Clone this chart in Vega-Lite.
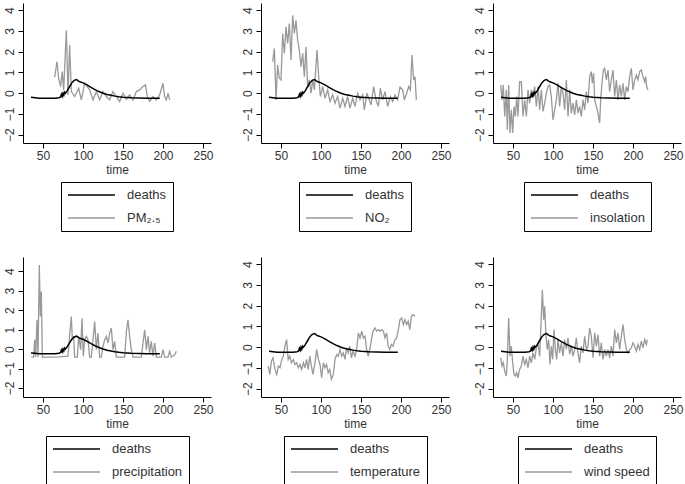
{
"$schema": "https://vega.github.io/schema/vega-lite/v6.json",
"padding": {"top": 3, "left": 3, "right": 2, "bottom": 0},
"config": {
 "font": "Liberation Sans",
 "view": {"stroke": null},
 "axis": {"grid": false, "domainColor": "#000", "tickColor": "#000", "labelColor": "#333", "labelFontSize": 12, "titleFontSize": 12, "titleFontWeight": "normal", "titleColor": "#333", "tickSize": 5, "labelPadding": 2, "titlePadding": 3, "labelOverlap": false, "labelFlush": false},
 "axisY": {"labelAngle": 270},
 "legend": {"orient": "bottom", "direction": "vertical", "strokeColor": "#000", "padding": 6, "labelFontSize": 13, "labelColor": "#333", "symbolType": "M-1,0L6.83,0", "symbolSize": 144, "symbolStrokeWidth": 1.3, "labelOffset": 46, "rowPadding": 9, "offset": 7, "layout": {"bottom": {"anchor": "middle"}}}
},
"datasets": {
 "deaths": [
  {"t":35,"v":-0.2},{"t":40,"v":-0.22},{"t":45,"v":-0.24},{"t":55,"v":-0.24},{"t":65,"v":-0.24},{"t":70,"v":-0.22},{"t":72,"v":-0.18},{"t":73,"v":-0.05},{"t":74,"v":-0.15},{"t":75,"v":0.0},{"t":76,"v":-0.1},{"t":77,"v":0.05},{"t":78,"v":0.0},{"t":80,"v":0.1},{"t":83,"v":0.3},{"t":86,"v":0.5},{"t":89,"v":0.62},{"t":92,"v":0.66},{"t":94,"v":0.6},{"t":96,"v":0.55},{"t":100,"v":0.5},{"t":105,"v":0.4},{"t":110,"v":0.28},{"t":115,"v":0.17},{"t":120,"v":0.08},{"t":125,"v":0.0},{"t":130,"v":-0.06},{"t":135,"v":-0.1},{"t":140,"v":-0.14},{"t":145,"v":-0.17},{"t":150,"v":-0.19},{"t":160,"v":-0.22},{"t":170,"v":-0.23},{"t":180,"v":-0.24},{"t":196,"v":-0.24}
 ],
 "env": [
  {"p":"PM₂.₅","t":64.6,"v":0.77},{"p":"PM₂.₅","t":67.5,"v":1.52},{"p":"PM₂.₅","t":69.6,"v":0.72},{"p":"PM₂.₅","t":72,"v":0.32},{"p":"PM₂.₅","t":74,"v":1.04},{"p":"PM₂.₅","t":75.8,"v":0.16},{"p":"PM₂.₅","t":79.2,"v":3.04},{"p":"PM₂.₅","t":81.25,"v":-0.08},{"p":"PM₂.₅","t":83.3,"v":2.32},{"p":"PM₂.₅","t":85.4,"v":0.08},{"p":"PM₂.₅","t":89.6,"v":-0.16},{"p":"PM₂.₅","t":94.6,"v":0.24},{"p":"PM₂.₅","t":97.9,"v":-0.32},{"p":"PM₂.₅","t":102.1,"v":0.48},{"p":"PM₂.₅","t":105.4,"v":0.32},{"p":"PM₂.₅","t":108.3,"v":0.16},{"p":"PM₂.₅","t":112.5,"v":-0.32},{"p":"PM₂.₅","t":116.7,"v":0.08},{"p":"PM₂.₅","t":120.8,"v":-0.32},{"p":"PM₂.₅","t":125,"v":0.08},{"p":"PM₂.₅","t":129.2,"v":-0.16},{"p":"PM₂.₅","t":133.3,"v":-0.32},{"p":"PM₂.₅","t":137.5,"v":0.08},{"p":"PM₂.₅","t":141.7,"v":-0.16},{"p":"PM₂.₅","t":145.8,"v":-0.4},{"p":"PM₂.₅","t":150,"v":0},{"p":"PM₂.₅","t":154.2,"v":-0.29},{"p":"PM₂.₅","t":158.3,"v":-0.08},{"p":"PM₂.₅","t":162.5,"v":-0.32},{"p":"PM₂.₅","t":166.7,"v":0.08},{"p":"PM₂.₅","t":170.8,"v":0.16},{"p":"PM₂.₅","t":175,"v":0.32},{"p":"PM₂.₅","t":178,"v":0.4},{"p":"PM₂.₅","t":180.4,"v":-0.16},{"p":"PM₂.₅","t":183.3,"v":-0.4},{"p":"PM₂.₅","t":187.5,"v":-0.16},{"p":"PM₂.₅","t":191.7,"v":-0.32},{"p":"PM₂.₅","t":195.8,"v":-0.08},{"p":"PM₂.₅","t":200,"v":0.48},{"p":"PM₂.₅","t":202,"v":-0.16},{"p":"PM₂.₅","t":204.2,"v":-0.32},{"p":"PM₂.₅","t":206.25,"v":0},{"p":"PM₂.₅","t":208.3,"v":-0.32},
  {"p":"NO₂","t":39.6,"v":1.52},{"p":"NO₂","t":41.7,"v":2.16},{"p":"NO₂","t":43.75,"v":-0.32},{"p":"NO₂","t":45.8,"v":1.36},{"p":"NO₂","t":47.9,"v":0.72},{"p":"NO₂","t":50,"v":0.64},{"p":"NO₂","t":52.1,"v":2.88},{"p":"NO₂","t":54.2,"v":1.92},{"p":"NO₂","t":56.25,"v":3.2},{"p":"NO₂","t":58.3,"v":2.4},{"p":"NO₂","t":60.4,"v":3.36},{"p":"NO₂","t":62.5,"v":1.6},{"p":"NO₂","t":64.6,"v":3.76},{"p":"NO₂","t":66.7,"v":2.88},{"p":"NO₂","t":68.75,"v":3.52},{"p":"NO₂","t":70.8,"v":2.56},{"p":"NO₂","t":72.9,"v":2.08},{"p":"NO₂","t":75,"v":1.28},{"p":"NO₂","t":77.1,"v":1.92},{"p":"NO₂","t":79.2,"v":0.8},{"p":"NO₂","t":81.25,"v":2.24},{"p":"NO₂","t":83.3,"v":0.32},{"p":"NO₂","t":85.4,"v":0.64},{"p":"NO₂","t":87.5,"v":0},{"p":"NO₂","t":89.6,"v":0.64},{"p":"NO₂","t":91.7,"v":0.16},{"p":"NO₂","t":95,"v":2.08},{"p":"NO₂","t":97.1,"v":0.8},{"p":"NO₂","t":99.2,"v":-0.16},{"p":"NO₂","t":102.1,"v":0.32},{"p":"NO₂","t":105,"v":-0.24},{"p":"NO₂","t":108.3,"v":0.16},{"p":"NO₂","t":111.25,"v":-0.4},{"p":"NO₂","t":114.6,"v":-0.08},{"p":"NO₂","t":117.5,"v":-0.48},{"p":"NO₂","t":120.8,"v":-0.16},{"p":"NO₂","t":123.75,"v":-0.72},{"p":"NO₂","t":127.1,"v":-0.24},{"p":"NO₂","t":130,"v":-0.64},{"p":"NO₂","t":133.3,"v":-0.16},{"p":"NO₂","t":136.25,"v":-0.72},{"p":"NO₂","t":139.6,"v":-0.24},{"p":"NO₂","t":142.5,"v":-0.64},{"p":"NO₂","t":145.8,"v":0},{"p":"NO₂","t":148.75,"v":-0.32},{"p":"NO₂","t":152.1,"v":-0.08},{"p":"NO₂","t":154.2,"v":-0.8},{"p":"NO₂","t":157.5,"v":0},{"p":"NO₂","t":160.4,"v":-0.32},{"p":"NO₂","t":162.5,"v":-0.56},{"p":"NO₂","t":165.8,"v":0.32},{"p":"NO₂","t":168.75,"v":-0.32},{"p":"NO₂","t":171.7,"v":-0.64},{"p":"NO₂","t":174.2,"v":0.24},{"p":"NO₂","t":177.1,"v":-0.32},{"p":"NO₂","t":180,"v":0.08},{"p":"NO₂","t":183.3,"v":-0.64},{"p":"NO₂","t":186.7,"v":-0.16},{"p":"NO₂","t":189.6,"v":-0.4},{"p":"NO₂","t":192.5,"v":-0.08},{"p":"NO₂","t":195.8,"v":-0.32},{"p":"NO₂","t":198.75,"v":0.29},{"p":"NO₂","t":202.1,"v":0.16},{"p":"NO₂","t":204.2,"v":-0.32},{"p":"NO₂","t":207.1,"v":0},{"p":"NO₂","t":209.6,"v":0.32},{"p":"NO₂","t":211.7,"v":0.16},{"p":"NO₂","t":213.75,"v":1.84},{"p":"NO₂","t":215.8,"v":0.64},{"p":"NO₂","t":217.5,"v":0.8},{"p":"NO₂","t":219.2,"v":-0.32},
  {"p":"insolation","t":34.6,"v":0.4},{"p":"insolation","t":36.25,"v":-0.32},{"p":"insolation","t":37.9,"v":0.4},{"p":"insolation","t":39.6,"v":-1.12},{"p":"insolation","t":41.7,"v":0.16},{"p":"insolation","t":42.9,"v":-1.76},{"p":"insolation","t":44.6,"v":0.4},{"p":"insolation","t":46.25,"v":-1.92},{"p":"insolation","t":47.9,"v":-0.8},{"p":"insolation","t":49.6,"v":-1.92},{"p":"insolation","t":51.25,"v":-0.64},{"p":"insolation","t":52.9,"v":-1.12},{"p":"insolation","t":54.6,"v":-0.16},{"p":"insolation","t":56.25,"v":-1.12},{"p":"insolation","t":58.3,"v":0.56},{"p":"insolation","t":60.4,"v":0.56},{"p":"insolation","t":62.5,"v":-1.12},{"p":"insolation","t":64.6,"v":-0.32},{"p":"insolation","t":66.7,"v":-1.12},{"p":"insolation","t":68.75,"v":0.16},{"p":"insolation","t":70.8,"v":-0.48},{"p":"insolation","t":72.9,"v":0.16},{"p":"insolation","t":75,"v":-0.16},{"p":"insolation","t":77.1,"v":0.32},{"p":"insolation","t":79.2,"v":-0.64},{"p":"insolation","t":81.25,"v":0.32},{"p":"insolation","t":83.3,"v":-0.8},{"p":"insolation","t":85.4,"v":0.16},{"p":"insolation","t":87.5,"v":-0.88},{"p":"insolation","t":89.6,"v":-0.48},{"p":"insolation","t":91.7,"v":0},{"p":"insolation","t":93.75,"v":0.32},{"p":"insolation","t":95.8,"v":0.4},{"p":"insolation","t":97.9,"v":-0.16},{"p":"insolation","t":100,"v":-1.28},{"p":"insolation","t":102.1,"v":-0.8},{"p":"insolation","t":104.2,"v":-0.32},{"p":"insolation","t":106.25,"v":0.48},{"p":"insolation","t":108.3,"v":-0.64},{"p":"insolation","t":110.4,"v":0.32},{"p":"insolation","t":112.5,"v":0},{"p":"insolation","t":114.6,"v":-0.8},{"p":"insolation","t":116.7,"v":0.64},{"p":"insolation","t":118.75,"v":-1.12},{"p":"insolation","t":120.8,"v":0.16},{"p":"insolation","t":122.9,"v":-0.96},{"p":"insolation","t":125,"v":-0.48},{"p":"insolation","t":127.1,"v":-1.04},{"p":"insolation","t":129.2,"v":-0.32},{"p":"insolation","t":131.25,"v":-0.96},{"p":"insolation","t":133.3,"v":-0.64},{"p":"insolation","t":135.4,"v":-1.12},{"p":"insolation","t":137.5,"v":-0.32},{"p":"insolation","t":139.6,"v":-0.8},{"p":"insolation","t":141.7,"v":0.08},{"p":"insolation","t":143.75,"v":-0.48},{"p":"insolation","t":145.8,"v":0.8},{"p":"insolation","t":147.9,"v":1.04},{"p":"insolation","t":149.2,"v":0.48},{"p":"insolation","t":150.8,"v":0.96},{"p":"insolation","t":152.1,"v":-0.32},{"p":"insolation","t":154.2,"v":-0.64},{"p":"insolation","t":156.25,"v":-0.96},{"p":"insolation","t":158.3,"v":-1.44},{"p":"insolation","t":159.6,"v":-0.32},{"p":"insolation","t":161.25,"v":0.48},{"p":"insolation","t":162.9,"v":1.12},{"p":"insolation","t":164.6,"v":1.2},{"p":"insolation","t":166.7,"v":0.64},{"p":"insolation","t":168.75,"v":1.12},{"p":"insolation","t":170.8,"v":0.08},{"p":"insolation","t":172.9,"v":0.64},{"p":"insolation","t":175,"v":1.12},{"p":"insolation","t":177.1,"v":-0.16},{"p":"insolation","t":179.2,"v":0.64},{"p":"insolation","t":181.25,"v":-0.32},{"p":"insolation","t":183.3,"v":0.4},{"p":"insolation","t":185.4,"v":-0.16},{"p":"insolation","t":187.5,"v":0.48},{"p":"insolation","t":189.6,"v":-0.32},{"p":"insolation","t":191.7,"v":0.32},{"p":"insolation","t":193.75,"v":0.08},{"p":"insolation","t":195.8,"v":0.8},{"p":"insolation","t":197.9,"v":1.2},{"p":"insolation","t":200,"v":0.16},{"p":"insolation","t":202.1,"v":0.64},{"p":"insolation","t":204.2,"v":0.88},{"p":"insolation","t":206.25,"v":0.64},{"p":"insolation","t":208.3,"v":1.04},{"p":"insolation","t":210.4,"v":1.12},{"p":"insolation","t":212.5,"v":0.8},{"p":"insolation","t":214.6,"v":0.56},{"p":"insolation","t":215.8,"v":0.8},{"p":"insolation","t":217.1,"v":0.32},{"p":"insolation","t":218.75,"v":0.16},
  {"p":"precipitation","t":35.4,"v":-0.41},{"p":"precipitation","t":38.3,"v":-0.41},{"p":"precipitation","t":39.6,"v":0.48},{"p":"precipitation","t":40.8,"v":-0.41},{"p":"precipitation","t":42.5,"v":1.5},{"p":"precipitation","t":43.75,"v":-0.41},{"p":"precipitation","t":45.4,"v":4.31},{"p":"precipitation","t":46.7,"v":1.67},{"p":"precipitation","t":47.9,"v":2.95},{"p":"precipitation","t":49.2,"v":-0.41},{"p":"precipitation","t":60,"v":-0.41},{"p":"precipitation","t":70,"v":-0.4},{"p":"precipitation","t":78,"v":-0.38},{"p":"precipitation","t":81.25,"v":-0.37},{"p":"precipitation","t":83.3,"v":0.73},{"p":"precipitation","t":85.4,"v":1.67},{"p":"precipitation","t":86.7,"v":0.48},{"p":"precipitation","t":88.3,"v":0.65},{"p":"precipitation","t":89.6,"v":-0.41},{"p":"precipitation","t":92.9,"v":-0.41},{"p":"precipitation","t":94.6,"v":0.65},{"p":"precipitation","t":97.1,"v":-0.03},{"p":"precipitation","t":98.75,"v":1.58},{"p":"precipitation","t":100.4,"v":-0.37},{"p":"precipitation","t":102.1,"v":0.48},{"p":"precipitation","t":104.2,"v":0.65},{"p":"precipitation","t":106.25,"v":0.48},{"p":"precipitation","t":108.3,"v":-0.41},{"p":"precipitation","t":110.4,"v":-0.41},{"p":"precipitation","t":112.5,"v":0.48},{"p":"precipitation","t":114.6,"v":1.41},{"p":"precipitation","t":116.7,"v":-0.03},{"p":"precipitation","t":118.75,"v":0.82},{"p":"precipitation","t":120.8,"v":-0.41},{"p":"precipitation","t":122.9,"v":-0.41},{"p":"precipitation","t":125,"v":0.14},{"p":"precipitation","t":127.1,"v":0.48},{"p":"precipitation","t":129.2,"v":0.65},{"p":"precipitation","t":131.25,"v":0.31},{"p":"precipitation","t":133.3,"v":0.82},{"p":"precipitation","t":135.4,"v":1.07},{"p":"precipitation","t":137.5,"v":-0.03},{"p":"precipitation","t":139.6,"v":0.39},{"p":"precipitation","t":141.7,"v":-0.41},{"p":"precipitation","t":152.1,"v":-0.41},{"p":"precipitation","t":154.2,"v":0.9},{"p":"precipitation","t":156.25,"v":1.5},{"p":"precipitation","t":158.3,"v":0.65},{"p":"precipitation","t":160.4,"v":-0.03},{"p":"precipitation","t":162.5,"v":-0.41},{"p":"precipitation","t":172.9,"v":-0.41},{"p":"precipitation","t":175,"v":0.31},{"p":"precipitation","t":177.1,"v":0.99},{"p":"precipitation","t":179.2,"v":-0.03},{"p":"precipitation","t":181.25,"v":0.65},{"p":"precipitation","t":183.3,"v":-0.2},{"p":"precipitation","t":185.4,"v":0.39},{"p":"precipitation","t":187.5,"v":-0.37},{"p":"precipitation","t":189.6,"v":0.31},{"p":"precipitation","t":191.7,"v":-0.41},{"p":"precipitation","t":197.9,"v":-0.41},{"p":"precipitation","t":200,"v":-0.03},{"p":"precipitation","t":202.1,"v":-0.41},{"p":"precipitation","t":206.25,"v":-0.41},{"p":"precipitation","t":208.3,"v":-0.12},{"p":"precipitation","t":210.4,"v":-0.41},{"p":"precipitation","t":214.6,"v":-0.29},{"p":"precipitation","t":216.7,"v":-0.12},
  {"p":"temperature","t":34,"v":-0.91},{"p":"temperature","t":36,"v":-1.31},{"p":"temperature","t":38,"v":-0.67},{"p":"temperature","t":40,"v":-0.51},{"p":"temperature","t":42.5,"v":-1.07},{"p":"temperature","t":44.6,"v":-1.31},{"p":"temperature","t":46.7,"v":-0.91},{"p":"temperature","t":48.75,"v":-0.99},{"p":"temperature","t":51,"v":-0.59},{"p":"temperature","t":53,"v":-0.43},{"p":"temperature","t":55,"v":0.05},{"p":"temperature","t":57,"v":0.37},{"p":"temperature","t":59,"v":-0.59},{"p":"temperature","t":61,"v":-0.43},{"p":"temperature","t":63,"v":-0.75},{"p":"temperature","t":65.4,"v":-0.59},{"p":"temperature","t":67.5,"v":-0.83},{"p":"temperature","t":69.6,"v":-0.75},{"p":"temperature","t":71.7,"v":-0.99},{"p":"temperature","t":73.75,"v":-0.83},{"p":"temperature","t":75.8,"v":-1.07},{"p":"temperature","t":78,"v":-0.75},{"p":"temperature","t":80,"v":-0.99},{"p":"temperature","t":82,"v":-0.59},{"p":"temperature","t":84,"v":-1.07},{"p":"temperature","t":86,"v":-0.43},{"p":"temperature","t":88,"v":-0.91},{"p":"temperature","t":90,"v":-1.31},{"p":"temperature","t":92.5,"v":-0.75},{"p":"temperature","t":94.6,"v":-0.11},{"p":"temperature","t":96.7,"v":-0.59},{"p":"temperature","t":98.75,"v":-0.83},{"p":"temperature","t":100.8,"v":-1.47},{"p":"temperature","t":103,"v":-0.75},{"p":"temperature","t":105,"v":-0.99},{"p":"temperature","t":107,"v":-0.83},{"p":"temperature","t":109,"v":-1.23},{"p":"temperature","t":111,"v":-1.07},{"p":"temperature","t":113,"v":-1.55},{"p":"temperature","t":115.4,"v":-1.31},{"p":"temperature","t":117.5,"v":-0.59},{"p":"temperature","t":119.6,"v":-0.35},{"p":"temperature","t":121.7,"v":-0.43},{"p":"temperature","t":123.75,"v":-0.11},{"p":"temperature","t":126,"v":-0.43},{"p":"temperature","t":128,"v":-0.27},{"p":"temperature","t":130,"v":-0.59},{"p":"temperature","t":132,"v":-0.03},{"p":"temperature","t":134,"v":-0.27},{"p":"temperature","t":136,"v":0.05},{"p":"temperature","t":138,"v":-0.51},{"p":"temperature","t":140,"v":-0.19},{"p":"temperature","t":142.5,"v":-0.43},{"p":"temperature","t":144.6,"v":-0.11},{"p":"temperature","t":146.7,"v":0.69},{"p":"temperature","t":148.75,"v":0.45},{"p":"temperature","t":151,"v":0.77},{"p":"temperature","t":153,"v":0.45},{"p":"temperature","t":155,"v":0.53},{"p":"temperature","t":157,"v":-0.11},{"p":"temperature","t":159,"v":-0.43},{"p":"temperature","t":161,"v":-0.11},{"p":"temperature","t":163,"v":0.37},{"p":"temperature","t":165,"v":0.77},{"p":"temperature","t":167.5,"v":0.93},{"p":"temperature","t":169.6,"v":0.77},{"p":"temperature","t":171.7,"v":0.85},{"p":"temperature","t":173.75,"v":0.77},{"p":"temperature","t":176,"v":0.85},{"p":"temperature","t":178,"v":0.77},{"p":"temperature","t":180,"v":0.45},{"p":"temperature","t":182,"v":0.69},{"p":"temperature","t":184,"v":0.05},{"p":"temperature","t":186,"v":-0.11},{"p":"temperature","t":188,"v":0.13},{"p":"temperature","t":190,"v":0.05},{"p":"temperature","t":192.5,"v":0.37},{"p":"temperature","t":194.6,"v":0.45},{"p":"temperature","t":196.7,"v":0.85},{"p":"temperature","t":198.75,"v":1.33},{"p":"temperature","t":201,"v":1.41},{"p":"temperature","t":203,"v":1.09},{"p":"temperature","t":205,"v":1.33},{"p":"temperature","t":207,"v":1.09},{"p":"temperature","t":209,"v":1.25},{"p":"temperature","t":211,"v":0.85},{"p":"temperature","t":213,"v":1.49},{"p":"temperature","t":215,"v":1.57},{"p":"temperature","t":217.5,"v":1.49},
  {"p":"wind speed","t":34.6,"v":-0.51},{"p":"wind speed","t":36.25,"v":-0.91},{"p":"wind speed","t":37.9,"v":-0.75},{"p":"wind speed","t":39.6,"v":-1.15},{"p":"wind speed","t":41.7,"v":-1.39},{"p":"wind speed","t":42.9,"v":-0.59},{"p":"wind speed","t":44.6,"v":1.41},{"p":"wind speed","t":46.25,"v":-0.43},{"p":"wind speed","t":47.9,"v":0.05},{"p":"wind speed","t":49.6,"v":-0.75},{"p":"wind speed","t":51.25,"v":-1.31},{"p":"wind speed","t":52.9,"v":-1.39},{"p":"wind speed","t":54.6,"v":-1.23},{"p":"wind speed","t":56.25,"v":-1.47},{"p":"wind speed","t":58.3,"v":-1.07},{"p":"wind speed","t":60.4,"v":-0.91},{"p":"wind speed","t":62.5,"v":-0.43},{"p":"wind speed","t":64.6,"v":-0.83},{"p":"wind speed","t":66.7,"v":-0.59},{"p":"wind speed","t":68.75,"v":-0.99},{"p":"wind speed","t":70.8,"v":-0.43},{"p":"wind speed","t":72.9,"v":-0.75},{"p":"wind speed","t":75,"v":-0.27},{"p":"wind speed","t":77.1,"v":-0.59},{"p":"wind speed","t":79.2,"v":-0.03},{"p":"wind speed","t":81.25,"v":0.21},{"p":"wind speed","t":83.3,"v":-0.43},{"p":"wind speed","t":85.4,"v":1.49},{"p":"wind speed","t":86.7,"v":2.77},{"p":"wind speed","t":88.3,"v":1.33},{"p":"wind speed","t":89.6,"v":1.97},{"p":"wind speed","t":91.25,"v":0.53},{"p":"wind speed","t":92.9,"v":-0.11},{"p":"wind speed","t":94.6,"v":0.37},{"p":"wind speed","t":96.25,"v":-0.83},{"p":"wind speed","t":97.9,"v":0.05},{"p":"wind speed","t":99.6,"v":-0.59},{"p":"wind speed","t":101.25,"v":0.85},{"p":"wind speed","t":102.9,"v":-0.11},{"p":"wind speed","t":104.6,"v":-0.59},{"p":"wind speed","t":106.25,"v":0.37},{"p":"wind speed","t":108.3,"v":-0.27},{"p":"wind speed","t":110.4,"v":0.21},{"p":"wind speed","t":112.5,"v":-0.43},{"p":"wind speed","t":114.6,"v":0.37},{"p":"wind speed","t":116.7,"v":-0.11},{"p":"wind speed","t":118.75,"v":0.45},{"p":"wind speed","t":120.8,"v":-0.35},{"p":"wind speed","t":122.9,"v":0.05},{"p":"wind speed","t":125,"v":-0.43},{"p":"wind speed","t":127.1,"v":-0.11},{"p":"wind speed","t":129.2,"v":0.45},{"p":"wind speed","t":131.25,"v":-0.27},{"p":"wind speed","t":133.3,"v":-0.75},{"p":"wind speed","t":135.4,"v":0.05},{"p":"wind speed","t":137.5,"v":-0.27},{"p":"wind speed","t":139.6,"v":0.53},{"p":"wind speed","t":141.7,"v":-0.11},{"p":"wind speed","t":143.75,"v":0.05},{"p":"wind speed","t":145.8,"v":0.93},{"p":"wind speed","t":147.9,"v":0.53},{"p":"wind speed","t":150,"v":-0.51},{"p":"wind speed","t":152.1,"v":0.69},{"p":"wind speed","t":154.2,"v":0.05},{"p":"wind speed","t":156.25,"v":0.61},{"p":"wind speed","t":158.3,"v":-0.43},{"p":"wind speed","t":160.4,"v":0.21},{"p":"wind speed","t":162.5,"v":-0.59},{"p":"wind speed","t":164.6,"v":-0.11},{"p":"wind speed","t":166.7,"v":-0.43},{"p":"wind speed","t":168.75,"v":-0.11},{"p":"wind speed","t":170.8,"v":-0.51},{"p":"wind speed","t":172.9,"v":0.05},{"p":"wind speed","t":175,"v":-0.43},{"p":"wind speed","t":177.1,"v":0.85},{"p":"wind speed","t":179.2,"v":0.21},{"p":"wind speed","t":181.25,"v":0.69},{"p":"wind speed","t":183.3,"v":-0.11},{"p":"wind speed","t":185.4,"v":0.53},{"p":"wind speed","t":187.5,"v":1.09},{"p":"wind speed","t":189.6,"v":0.37},{"p":"wind speed","t":191.7,"v":-0.11},{"p":"wind speed","t":193.75,"v":-0.27},{"p":"wind speed","t":195.8,"v":-0.11},{"p":"wind speed","t":197.9,"v":-0.03},{"p":"wind speed","t":200,"v":0.21},{"p":"wind speed","t":202.1,"v":0.05},{"p":"wind speed","t":204.2,"v":-0.19},{"p":"wind speed","t":206.25,"v":0.13},{"p":"wind speed","t":208.3,"v":-0.11},{"p":"wind speed","t":210.4,"v":0.29},{"p":"wind speed","t":212.5,"v":-0.03},{"p":"wind speed","t":214.6,"v":0.37},{"p":"wind speed","t":216.7,"v":0.13},{"p":"wind speed","t":218,"v":0.37}
 ]
},
"spacing": 27,
"resolve": {"scale": {"color": "independent"}, "legend": {"color": "independent"}},
"hconcat": [
 {"spacing": 25, "resolve": {"scale": {"color": "independent"}, "legend": {"color": "independent"}}, "vconcat": [
  {"width": 188, "height": 140,
   "encoding": {"x": {"field": "t", "type": "quantitative", "scale": {"domain": [25, 260], "nice": false, "zero": false}, "axis": {"values": [50, 100, 150, 200, 250], "title": "time"}}, "y": {"field": "v", "type": "quantitative", "scale": {"domain": [-2.4, 4.35], "nice": false, "zero": false}, "axis": {"values": [-2, -1, 0, 1, 2, 3, 4], "title": null}}},
   "layer": [
   {"data": {"name": "env"}, "transform": [{"filter": "datum.p == 'PM₂.₅'"}], "mark": {"type": "line", "strokeWidth": 1.3}, "encoding": {"color": {"datum": "PM₂.₅", "type": "nominal", "scale": {"domain": ["deaths", "PM₂.₅"], "range": ["#000000", "#999999"]}, "legend": {"title": null}}}},
   {"data": {"name": "deaths"}, "mark": {"type": "line", "strokeWidth": 1.5}, "encoding": {"color": {"datum": "deaths", "type": "nominal"}}}
  ]},
  {"width": 188, "height": 140,
   "encoding": {"x": {"field": "t", "type": "quantitative", "scale": {"domain": [25, 260], "nice": false, "zero": false}, "axis": {"values": [50, 100, 150, 200, 250], "title": "time"}}, "y": {"field": "v", "type": "quantitative", "scale": {"domain": [-2.46, 4.72], "nice": false, "zero": false}, "axis": {"values": [-2, -1, 0, 1, 2, 3, 4], "title": null}}},
   "layer": [
   {"data": {"name": "env"}, "transform": [{"filter": "datum.p == 'precipitation'"}], "mark": {"type": "line", "strokeWidth": 1.3}, "encoding": {"color": {"datum": "precipitation", "type": "nominal", "scale": {"domain": ["deaths", "precipitation"], "range": ["#000000", "#999999"]}, "legend": {"title": null}}}},
   {"data": {"name": "deaths"}, "mark": {"type": "line", "strokeWidth": 1.5}, "encoding": {"color": {"datum": "deaths", "type": "nominal"}}}
  ]}
 ]},
 {"spacing": 21, "resolve": {"scale": {"color": "independent"}, "legend": {"color": "independent"}}, "hconcat": [
  {"spacing": 25, "resolve": {"scale": {"color": "independent"}, "legend": {"color": "independent"}}, "vconcat": [
   {"width": 188, "height": 140,
    "encoding": {"x": {"field": "t", "type": "quantitative", "scale": {"domain": [25, 260], "nice": false, "zero": false}, "axis": {"values": [50, 100, 150, 200, 250], "title": "time"}}, "y": {"field": "v", "type": "quantitative", "scale": {"domain": [-2.4, 4.35], "nice": false, "zero": false}, "axis": {"values": [-2, -1, 0, 1, 2, 3, 4], "title": null}}},
    "layer": [
    {"data": {"name": "env"}, "transform": [{"filter": "datum.p == 'NO₂'"}], "mark": {"type": "line", "strokeWidth": 1.3}, "encoding": {"color": {"datum": "NO₂", "type": "nominal", "scale": {"domain": ["deaths", "NO₂"], "range": ["#000000", "#999999"]}, "legend": {"title": null}}}},
    {"data": {"name": "deaths"}, "mark": {"type": "line", "strokeWidth": 1.5}, "encoding": {"color": {"datum": "deaths", "type": "nominal"}}}
   ]},
   {"width": 188, "height": 140,
    "encoding": {"x": {"field": "t", "type": "quantitative", "scale": {"domain": [25, 260], "nice": false, "zero": false}, "axis": {"values": [50, 100, 150, 200, 250], "title": "time"}}, "y": {"field": "v", "type": "quantitative", "scale": {"domain": [-2.4, 4.35], "nice": false, "zero": false}, "axis": {"values": [-2, -1, 0, 1, 2, 3, 4], "title": null}}},
    "layer": [
    {"data": {"name": "env"}, "transform": [{"filter": "datum.p == 'temperature'"}], "mark": {"type": "line", "strokeWidth": 1.3}, "encoding": {"color": {"datum": "temperature", "type": "nominal", "scale": {"domain": ["deaths", "temperature"], "range": ["#000000", "#999999"]}, "legend": {"title": null}}}},
    {"data": {"name": "deaths"}, "mark": {"type": "line", "strokeWidth": 1.5}, "encoding": {"color": {"datum": "deaths", "type": "nominal"}}}
   ]}
  ]},
  {"spacing": 25, "resolve": {"scale": {"color": "independent"}, "legend": {"color": "independent"}}, "vconcat": [
   {"width": 188, "height": 140,
    "encoding": {"x": {"field": "t", "type": "quantitative", "scale": {"domain": [25, 260], "nice": false, "zero": false}, "axis": {"values": [50, 100, 150, 200, 250], "title": "time"}}, "y": {"field": "v", "type": "quantitative", "scale": {"domain": [-2.4, 4.35], "nice": false, "zero": false}, "axis": {"values": [-2, -1, 0, 1, 2, 3, 4], "title": null}}},
    "layer": [
    {"data": {"name": "env"}, "transform": [{"filter": "datum.p == 'insolation'"}], "mark": {"type": "line", "strokeWidth": 1.3}, "encoding": {"color": {"datum": "insolation", "type": "nominal", "scale": {"domain": ["deaths", "insolation"], "range": ["#000000", "#999999"]}, "legend": {"title": null}}}},
    {"data": {"name": "deaths"}, "mark": {"type": "line", "strokeWidth": 1.5}, "encoding": {"color": {"datum": "deaths", "type": "nominal"}}}
   ]},
   {"width": 188, "height": 140,
    "encoding": {"x": {"field": "t", "type": "quantitative", "scale": {"domain": [25, 260], "nice": false, "zero": false}, "axis": {"values": [50, 100, 150, 200, 250], "title": "time"}}, "y": {"field": "v", "type": "quantitative", "scale": {"domain": [-2.4, 4.35], "nice": false, "zero": false}, "axis": {"values": [-2, -1, 0, 1, 2, 3, 4], "title": null}}},
    "layer": [
    {"data": {"name": "env"}, "transform": [{"filter": "datum.p == 'wind speed'"}], "mark": {"type": "line", "strokeWidth": 1.3}, "encoding": {"color": {"datum": "wind speed", "type": "nominal", "scale": {"domain": ["deaths", "wind speed"], "range": ["#000000", "#999999"]}, "legend": {"title": null}}}},
    {"data": {"name": "deaths"}, "mark": {"type": "line", "strokeWidth": 1.5}, "encoding": {"color": {"datum": "deaths", "type": "nominal"}}}
   ]}
  ]}
 ]}
]
}
